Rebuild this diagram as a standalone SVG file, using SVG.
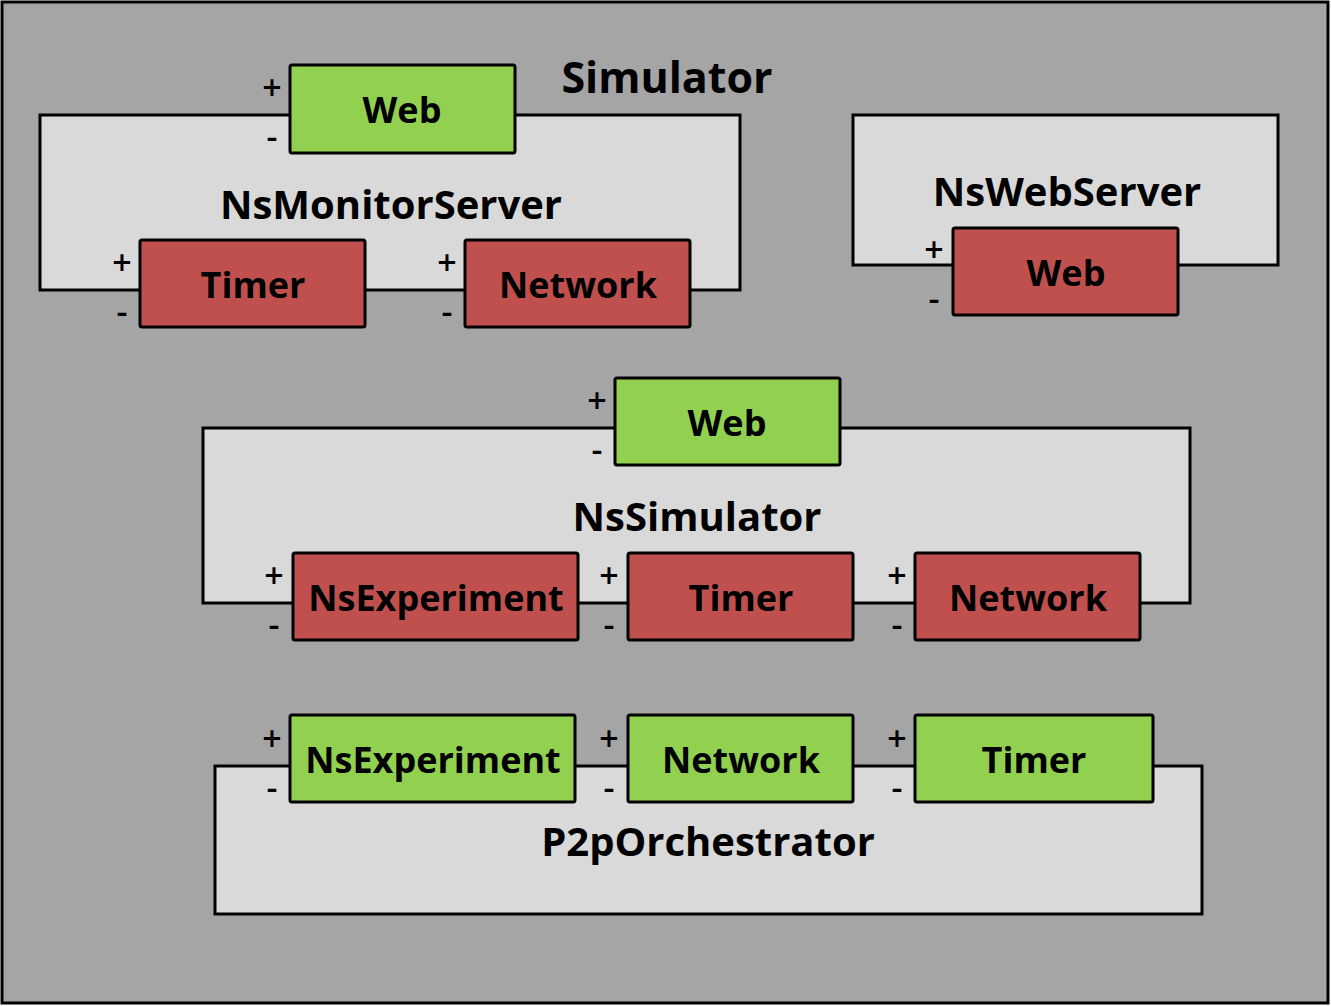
<svg xmlns="http://www.w3.org/2000/svg" width="1331" height="1006" viewBox="0 0 1331 1006">
<style>
.frame{fill:#a5a5a5;stroke:#000;stroke-width:3}
.cont{fill:#d9d9d9;stroke:#000;stroke-width:3}
.g{fill:#92d050;stroke:#000;stroke-width:3}
.r{fill:#c0504d;stroke:#000;stroke-width:3}
text{font-family:"Open Sans","Noto Sans","DejaVu Sans",sans-serif;font-weight:bold;fill:#000;text-anchor:middle}
.t{font-size:36px}
.ct{font-size:40px}
.title{font-size:43px}
.pm{font-size:34px;font-weight:600}
</style>
<rect class="frame" x="2" y="2" width="1326" height="1001"/>
<g id="simulator-title"><text class="title" x="667" y="93">Simulator</text></g>

<g id="NsMonitorServer">
<rect class="cont" x="40" y="115" width="700" height="175"/>
<text class="ct" x="391" y="219">NsMonitorServer</text>
</g>
<g id="NsMonitorServer-Web">
<rect class="g" x="290" y="65" width="225" height="88" rx="2"/>
<text class="t" x="402" y="123">Web</text>
<text class="pm" x="272" y="100">+</text><text class="pm" x="272" y="149">-</text>
</g>
<g id="NsMonitorServer-Timer">
<rect class="r" x="140" y="240" width="225" height="87" rx="2"/>
<text class="t" x="253" y="298">Timer</text>
<text class="pm" x="122" y="275">+</text><text class="pm" x="122" y="324">-</text>
</g>
<g id="NsMonitorServer-Network">
<rect class="r" x="465" y="240" width="225" height="87" rx="2"/>
<text class="t" x="578" y="298">Network</text>
<text class="pm" x="447" y="275">+</text><text class="pm" x="447" y="324">-</text>
</g>

<g id="NsWebServer">
<rect class="cont" x="853" y="115" width="425" height="150"/>
<text class="ct" x="1067" y="206">NsWebServer</text>
</g>
<g id="NsWebServer-Web">
<rect class="r" x="953" y="228" width="225" height="87" rx="2"/>
<text class="t" x="1066" y="286">Web</text>
<text class="pm" x="934" y="262">+</text><text class="pm" x="934" y="311">-</text>
</g>

<g id="NsSimulator">
<rect class="cont" x="203" y="428" width="987" height="175"/>
<text class="ct" x="697" y="531">NsSimulator</text>
</g>
<g id="NsSimulator-Web">
<rect class="g" x="615" y="378" width="225" height="87" rx="2"/>
<text class="t" x="727" y="436">Web</text>
<text class="pm" x="597" y="413">+</text><text class="pm" x="597" y="462">-</text>
</g>
<g id="NsSimulator-NsExperiment">
<rect class="r" x="293" y="553" width="285" height="87" rx="2"/>
<text class="t" x="436" y="611">NsExperiment</text>
<text class="pm" x="274" y="588">+</text><text class="pm" x="274" y="637">-</text>
</g>
<g id="NsSimulator-Timer">
<rect class="r" x="628" y="553" width="225" height="87" rx="2"/>
<text class="t" x="741" y="611">Timer</text>
<text class="pm" x="609" y="588">+</text><text class="pm" x="609" y="637">-</text>
</g>
<g id="NsSimulator-Network">
<rect class="r" x="915" y="553" width="225" height="87" rx="2"/>
<text class="t" x="1028" y="611">Network</text>
<text class="pm" x="897" y="588">+</text><text class="pm" x="897" y="637">-</text>
</g>

<g id="P2pOrchestrator">
<rect class="cont" x="215" y="766" width="987" height="148"/>
<text class="ct" x="708" y="856">P2pOrchestrator</text>
</g>
<g id="P2pOrchestrator-NsExperiment">
<rect class="g" x="290" y="715" width="285" height="87" rx="2"/>
<text class="t" x="433" y="773">NsExperiment</text>
<text class="pm" x="272" y="751">+</text><text class="pm" x="272" y="800">-</text>
</g>
<g id="P2pOrchestrator-Network">
<rect class="g" x="628" y="715" width="225" height="87" rx="2"/>
<text class="t" x="741" y="773">Network</text>
<text class="pm" x="609" y="751">+</text><text class="pm" x="609" y="800">-</text>
</g>
<g id="P2pOrchestrator-Timer">
<rect class="g" x="915" y="715" width="238" height="87" rx="2"/>
<text class="t" x="1034" y="773">Timer</text>
<text class="pm" x="897" y="751">+</text><text class="pm" x="897" y="800">-</text>
</g>
<g id="connectors"></g>
</svg>
